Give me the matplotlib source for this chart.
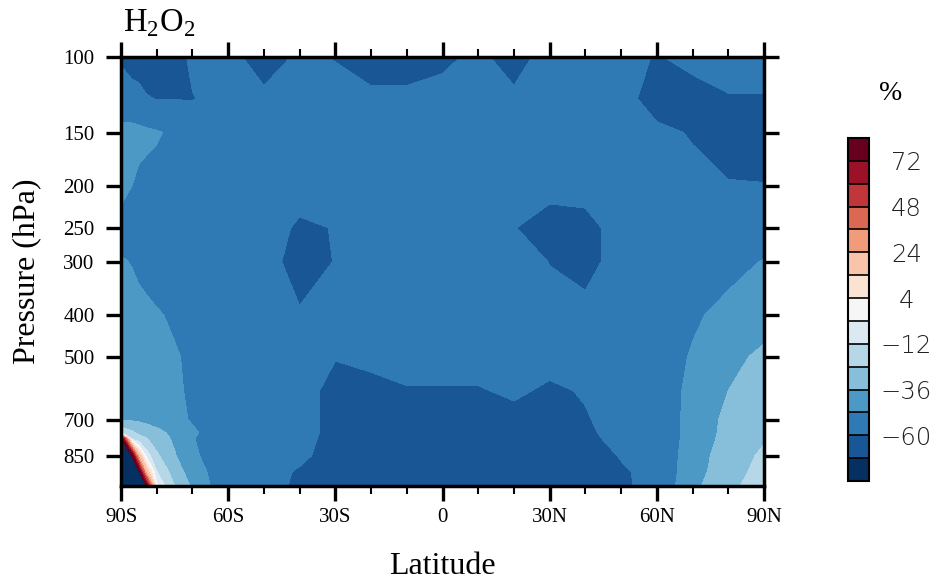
import numpy as np
import matplotlib
matplotlib.use("Agg")
import matplotlib.pyplot as plt
from matplotlib.ticker import NullLocator

plt.rcParams['font.family'] = ['Liberation Serif', 'DejaVu Serif']
plt.rcParams['mathtext.fontset'] = 'custom'
plt.rcParams['mathtext.rm'] = 'Liberation Serif'

nan = np.nan

# zonal mean change (%) : rows = pressure levels, columns = latitudes
lats = [-90, -87, -85, -83, -80, -75, -70, -60, -50, -40, -30, -20, -10,
        0, 10, 20, 30, 40, 50, 60, 70, 80, 90]
pressures = [100, 125, 150, 200, 250, 300, 400, 500, 600, 700, 750, 775, 850, 925, 1000]

p100 = [-61, -65, -66, -67, -68, -64, -58, -56, -66, -58, -60.5, -66, -66, -63, -57, -66, -54, -54, -55, -61, -56, -54, -54]
p125 = [-56, -55, -56, -59, -60.5, -60.2, -60.5, -55, -57, -55, -56, -57, -57, -55, -54, -57, -54, -54, -55, -66, -66, -61, -61]
p150 = [-44, -45, -45.5, -46, -47, -50, -53, -54, -54, -54, -54, -54, -54, -54, -54, -54, -54, -54, -54, -57, -61, -66, -66]
p200 = [-45, -48, -50, -51, -52, -53, -54, -54, -54, -55, -54, -54, -54, -54, -54, -56, -56, -56, -54, -54, -56, -59, -59.5]
p250 = [-52, -53, -53, -53, -54, -54, -54, -54, -54, -62, -59.5, -54, -54, -54, -54, -59.5, -66, -64, -55, -54, -54, -54, -54]
p300 = [-47, -48.5, -50.5, -52, -53, -54, -54, -54, -54, -66, -59.5, -54, -54, -54, -54, -55, -60.3, -64, -55, -54, -53, -51, -47.5]
p400 = [-42, -43, -44, -45, -47, -49.5, -51, -54, -54, -58.5, -57, -54, -54, -54, -54, -55, -56, -56, -54, -54, -49.5, -45, -42]
p500 = [-40, -40.5, -41, -42, -44, -47, -50, -54, -54, -55, -59.5, -57, -55, -55, -55, -55, -56, -55, -54, -54, -47, -40, -33]
p600 = [-38, -38.5, -39, -40, -42, -46, -50, -54, -54, -55, -64, -64, -61, -61, -61, -58, -62, -59, -55, -55, -45, -36, -30]
p700 = [-36.5, -37.5, -38, -39, -41, -45, -49, -55, -55, -55, -64, -65, -65, -65, -64, -64, -64, -61, -55, -56, -44, -33, -28]
p750 = [-15, -22, -27, -30, -33, -39, -46.5, -55, -55, -55, -64, -65, -65, -65, -65, -65, -65, -62, -56, -56, -44, -32.5, -26]
p775 = [85, -14, -19, -23, -30, -38, -47.5, -55, -55, -56, -64, -65, -65, -65, -65, -65, -65, -62.5, -57, -56.5, -43.5, -32, -25]
p850 = [nan, 85, 20, -5, -22, -35, -46, -56, -56, -58, -64, -65, -65, -65, -65, -65, -65, -64, -59.5, -57, -42, -30, -22]
p925 = [nan, nan, 85, 20, -12, -30, -42, -57, -56, -61, -64, -65, -65, -65, -65, -65, -65, -64, -61, -57.5, -41, -29, -20]
p1000 = [nan, nan, nan, 85, -2, -24, -38, -58, -57, -61.5, -64, -65, -65, -65, -65, -65, -65, -64, -61, -58, -39, -27, -18]

levels = [-1000, -72, -60, -48, -36, -24, -12, -4, 4, 12, 24, 36, 48, 60, 72, 1000]
cbar_ticks = [72, 48, 24, 4, -12, -36, -60]
cbar_labels = ['72', '48', '24', '4', '\u221212', '\u221236', '\u221260']
xticks = [-90, -60, -30, 0, 30, 60, 90]
xlabels = ['90S', '60S', '30S', '0', '30N', '60N', '90N']
yticks = [100, 150, 200, 250, 300, 400, 500, 700, 850]

z = np.ma.masked_invalid(np.array([p100, p125, p150, p200, p250, p300, p400, p500,
                                   p600, p700, p750, p775, p850, p925, p1000], dtype=float))
colors = plt.get_cmap('RdBu_r')(np.linspace(0, 1, 15))

fig = plt.figure(figsize=(9.41, 5.8), dpi=100)
ax = fig.add_axes([121/941, 1-486/580, 643/941, 429/580])
ax.set_facecolor(colors[0])  # missing corner shows as lowest class
cf = ax.contourf(lats, pressures, z, levels=levels, colors=colors)

ax.set_yscale('log')
ax.set_ylim(1000, 100)
ax.set_xlim(-90, 90)
ax.set_yticks(yticks, [str(p) for p in yticks])
ax.yaxis.set_minor_locator(NullLocator())
ax.set_xticks(xticks, xlabels)
ax.set_xticks(range(-90, 91, 10), minor=True)
ax.tick_params(which='both', direction='out', top=True, right=True, labelsize=15)
ax.tick_params(which='major', length=11, width=2.4)
ax.tick_params(which='minor', length=5.5, width=1.5)
ax.tick_params(axis='x', pad=5)
ax.tick_params(axis='y', pad=8)
for s in ax.spines.values():
    s.set_linewidth(2.5)

ax.set_xlabel('Latitude', fontsize=23, va='baseline')
ax.xaxis.set_label_coords(0.5, (486-574)/429)
ax.set_ylabel('Pressure (hPa)', fontsize=23, va='baseline')
ax.yaxis.set_label_coords((34.5-121)/643, 0.5)

fig.text(123/941, 1-31.7/580, 'H$_2$O$_2$', fontsize=23.5, ha='left', va='baseline')

cax = fig.add_axes([848/941, 1-481/580, 21/941, 343/580])
cb = fig.colorbar(cf, cax=cax, drawedges=True, spacing='uniform')
cb.set_ticks(cbar_ticks, labels=cbar_labels, ha='center', fontfamily='DejaVu Sans',
             fontweight='light', fontsize=17.5, color='#222222')
cb.outline.set_linewidth(1.5)
cb.dividers.set_linewidth(1.2)
cax.tick_params(length=0, pad=27)
fig.text(891/941, 1-94/580, '%', fontsize=20, ha='center', va='center')

fig.savefig('out.png', dpi=100)
